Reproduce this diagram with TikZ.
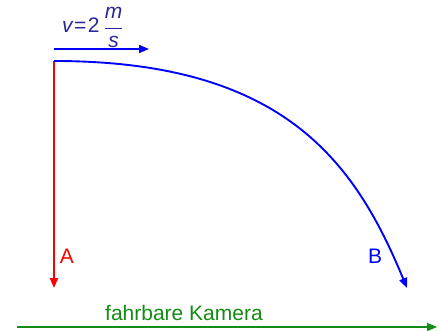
\documentclass[tikz,border=0pt]{standalone}
\usepackage{fontspec}
\setmainfont{Liberation Sans}
\usetikzlibrary{arrows.meta}
\definecolor{vblue}{RGB}{0,0,255}
\definecolor{tblue}{RGB}{40,40,150}
\definecolor{kgreen}{RGB}{20,140,20}
\definecolor{ared}{RGB}{255,0,0}
\begin{document}
\begin{tikzpicture}[x=1pt,y=-1pt,
  tip/.style={-{Triangle[length=10pt,width=8pt]}},
  lbl/.style={inner sep=0pt,font=\fontsize{21}{24}\selectfont}]
\useasboundingbox (0,0) rectangle (439,331);
\coordinate (O) at (54,61);
\coordinate (Aend) at (54,288);
\coordinate (Bend) at (407,288);
\coordinate (vs) at (54,49);
\coordinate (ve) at (149,49);
\coordinate (ks) at (17,327);
\coordinate (ke) at (437,327);
% velocity
\draw[vblue,line width=1.4pt,tip] (vs) -- (ve);
\node[lbl,text=tblue,anchor=base west] (vlab) at (62,33)
  {{\itshape v}\kern1.5pt=\kern1.5pt2\kern4pt$\displaystyle\frac{\hbox{\itshape m}}{\hbox{\itshape s}}$};
% free fall A
\draw[ared,line width=1.9pt,tip] (O) -- (Aend);
\node[lbl,text=ared] (A) at (67,256) {A};
% throw B
\draw[vblue,line width=1.9pt,tip] (O) .. controls (284,61) and (355,162) .. (Bend);
\node[lbl,text=vblue] (B) at (375,256) {B};
% camera
\draw[kgreen,line width=1.1pt,tip] (ks) -- (ke);
\node[lbl,text=kgreen,anchor=base west] (K) at (105,320) {fahrbare Kamera};
\end{tikzpicture}
\end{document}
